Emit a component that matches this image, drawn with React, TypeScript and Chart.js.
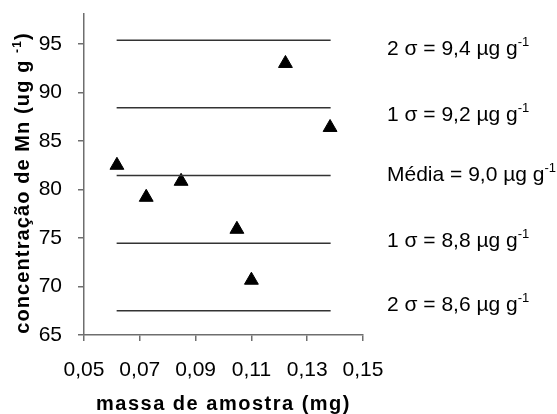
import { useEffect, useRef } from "react";
import { Chart, registerables } from "chart.js";

Chart.register(...registerables);

// ---- data ----
const sampleMass = [0.0618, 0.0723, 0.0848, 0.1048, 0.11, 0.1222, 0.1382];
const mnConcentration = [82.5, 79.2, 80.85, 75.9, 70.65, 93.0, 86.4];
const refLineValues = [95.4, 88.43, 81.45, 74.45, 67.5];
const refLineRange = [0.0617, 0.1384];
const refLabels = [
  "2 σ = 9,4 µg g",
  "1 σ = 9,2 µg g",
  "Média = 9,0 µg g",
  "1 σ = 8,8 µg g",
  "2 σ = 8,6 µg g",
];
const refLabelSup = "-1";
const xTickValues = [0.05, 0.07, 0.09, 0.11, 0.13, 0.15];
const yTickValues = [65, 70, 75, 80, 85, 90, 95];
const xTitle = "massa de amostra (mg)";
const yTitleMain = "concentração de Mn (ug g ";
const yTitleSup = "-1";
const yTitleEnd = ")";

// ---- style ----
const FONT = '"Liberation Sans", Arial, Helvetica, sans-serif';
const AXIS_COLOR = "#6e6e6e";
const LINE_COLOR = "#333333";
const labelBaselines = [55, 120.5, 181, 246.5, 310.5];
const labelX = 387;

function drawWithSup(
  ctx: CanvasRenderingContext2D,
  x: number,
  y: number,
  parts: { text: string; sup?: boolean }[],
  size: number,
  bold: boolean,
  spacing: number,
  measureOnly = false
): number {
  let cx = x;
  for (const p of parts) {
    const fs = p.sup ? Math.round(size * 0.62) : size;
    ctx.font = `${bold ? "bold " : ""}${fs}px ${FONT}`;
    (ctx as any).letterSpacing = `${spacing}px`;
    const w = ctx.measureText(p.text).width;
    if (!measureOnly) ctx.fillText(p.text, cx, p.sup ? y - size * 0.42 : y);
    cx += w;
  }
  return cx - x;
}

const textPlugin = {
  id: "customTexts",
  afterDraw(chart: any) {
    const ctx: CanvasRenderingContext2D = chart.ctx;
    const area = chart.chartArea;
    ctx.save();
    ctx.fillStyle = "#000";
    ctx.textAlign = "left";
    ctx.textBaseline = "alphabetic";

    refLabels.forEach((t, i) => {
      drawWithSup(
        ctx,
        labelX,
        labelBaselines[i],
        [{ text: t }, { text: refLabelSup, sup: true }],
        21,
        false,
        0
      );
    });

    const xParts = [{ text: xTitle }];
    const xw = drawWithSup(ctx, 0, 0, xParts, 20, true, 1.5, true);
    const xc = (area.left + area.right) / 2;
    drawWithSup(ctx, xc - xw / 2, 410, xParts, 20, true, 1.5);

    const yParts = [
      { text: yTitleMain },
      { text: yTitleSup, sup: true },
      { text: yTitleEnd },
    ];
    const yw = drawWithSup(ctx, 0, 0, yParts, 20, true, 1.1, true);
    ctx.translate(29, 183);
    ctx.rotate(-Math.PI / 2);
    drawWithSup(ctx, -yw / 2, 0, yParts, 20, true, 1.1);
    ctx.restore();
  },
};

export default function App() {
  const canvasRef = useRef<HTMLCanvasElement | null>(null);

  useEffect(() => {
    document.body.style.margin = "0";
    const canvas = canvasRef.current;
    if (!canvas) return;

    const lineDatasets = refLineValues.map((v) => ({
      type: "scatter" as const,
      data: [
        { x: refLineRange[0], y: v },
        { x: refLineRange[1], y: v },
      ],
      showLine: true,
      borderColor: LINE_COLOR,
      borderWidth: 1.5,
      pointRadius: 0,
      pointHoverRadius: 0,
    }));

    const chart = new Chart(canvas, {
      type: "scatter",
      data: {
        datasets: [
          ...lineDatasets,
          {
            type: "scatter" as const,
            data: sampleMass.map((x, i) => ({ x, y: mnConcentration[i] })),
            pointStyle: "triangle",
            pointRadius: 8,
            pointBorderWidth: 1,
            backgroundColor: "#000",
            borderColor: "#000",
            showLine: false,
          } as any,
        ],
      },
      options: {
        animation: false,
        responsive: false,
        devicePixelRatio: 1,
        layout: { padding: { top: 14, right: 194, left: 0, bottom: 0 } },
        plugins: {
          legend: { display: false },
          tooltip: { enabled: false },
        },
        scales: {
          x: {
            type: "linear",
            min: 0.05,
            max: 0.15,
            afterBuildTicks: (axis: any) => {
              axis.ticks = xTickValues.map((v) => ({ value: v }));
            },
            afterFit: (axis: any) => {
              axis.height = 79;
              axis.paddingLeft = 0;
              axis.paddingRight = 0;
              axis.paddingTop = 0;
              axis.paddingBottom = 0;
            },
            ticks: {
              color: "#000",
              font: { family: FONT, size: 21 },
              padding: 17,
              maxRotation: 0,
              callback: (v: any) => Number(v).toFixed(2).replace(".", ","),
            },
            grid: {
              display: true,
              drawOnChartArea: false,
              drawTicks: true,
              tickLength: 6,
              color: AXIS_COLOR,
              lineWidth: 1.5,
            },
            border: { display: true, color: AXIS_COLOR, width: 1.5 },
            title: { display: false },
          },
          y: {
            type: "linear",
            min: 65,
            max: 98.1,
            afterBuildTicks: (axis: any) => {
              axis.ticks = yTickValues.map((v) => ({ value: v }));
            },
            afterFit: (axis: any) => {
              axis.width = 84;
              axis.paddingLeft = 0;
              axis.paddingRight = 0;
              axis.paddingTop = 0;
              axis.paddingBottom = 0;
            },
            ticks: {
              color: "#000",
              font: { family: FONT, size: 21 },
              padding: 16,
              callback: (v: any) => String(v),
            },
            grid: {
              display: true,
              drawOnChartArea: false,
              drawTicks: true,
              tickLength: 6,
              color: AXIS_COLOR,
              lineWidth: 1.5,
            },
            border: { display: true, color: AXIS_COLOR, width: 1.5 },
            title: { display: false },
          },
        },
      },
      plugins: [textPlugin],
    });

    return () => chart.destroy();
  }, []);

  return (
    <div style={{ width: 557, height: 414 }}>
      <canvas ref={canvasRef} width={557} height={414} style={{ display: "block" }} />
    </div>
  );
}
